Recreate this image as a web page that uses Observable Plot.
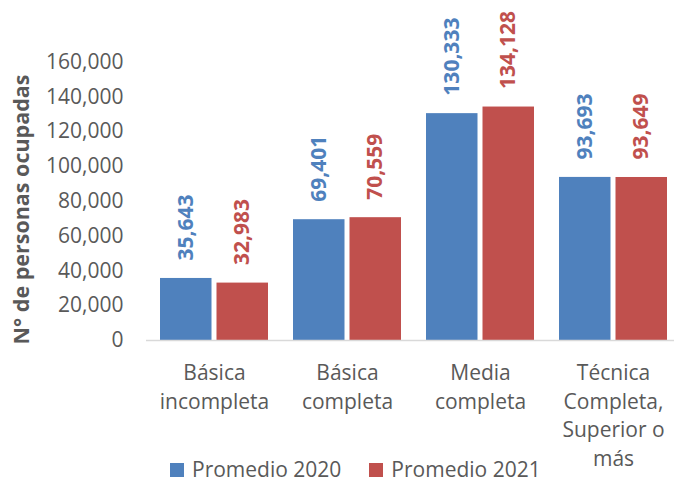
<!DOCTYPE html>
<html><head><meta charset="utf-8">
<script src="https://cdn.jsdelivr.net/npm/d3@7"></script>
<script src="https://cdn.jsdelivr.net/npm/@observablehq/plot@0.6"></script>
<style>
body{margin:0;background:#fff;font-family:"Open Sans",sans-serif;}
#wrap{position:relative;width:674px;height:480px;}
#legend{position:absolute;left:170px;top:459px;display:flex;align-items:center;font-size:21px;color:#595959;line-height:21px;white-space:nowrap;}
.item{display:flex;align-items:center;margin-right:28px;}
.sw{width:14px;height:14px;display:inline-block;margin-right:8px;}
</style></head><body><div id="wrap"><div id="legend"></div></div>
<script>
const categories = ["Básica\nincompleta", "Básica\ncompleta", "Media\ncompleta", "Técnica\nCompleta,\nSuperior o\nmás"];
const series = ["Promedio 2020", "Promedio 2021"];
const values2020 = [35643, 69401, 130333, 93693];
const values2021 = [32983, 70559, 134128, 93649];
const yTicks = [0, 20000, 40000, 60000, 80000, 100000, 120000, 140000, 160000];
const colors = ["#4F81BD", "#C0504D"];
const yLabel = "N° de personas ocupadas";

const rows = [];
categories.forEach((c, i) => {
  rows.push({cat: c, series: series[0], value: values2020[i]});
  rows.push({cat: c, series: series[1], value: values2021[i]});
});
const r2020 = rows.filter(d => d.series === series[0]);
const r2021 = rows.filter(d => d.series === series[1]);
const fmt = d3.format(",");

const chart = Plot.plot({
  width: 674,
  height: 480,
  marginLeft: 146,
  marginRight: 0,
  marginTop: 78,
  marginBottom: 140,
  style: {fontFamily: "'Open Sans', sans-serif", background: "#fff"},
  x: {domain: categories, range: [146.3, 679.7], paddingInner: 0.19, paddingOuter: 0.095},
  y: {domain: [0, 160000], range: [340, 61.5]},
  marks: [
    Plot.barY(r2020, {x: "cat", y: "value", fill: colors[0], insetRight: 56.5}),
    Plot.barY(r2021, {x: "cat", y: "value", fill: colors[1], insetLeft: 56.5}),
    Plot.ruleY([0], {stroke: "#D9D9D9", strokeWidth: 1.5}),
    Plot.text(r2020, {x: "cat", y: "value", text: d => fmt(d.value), rotate: -90, textAnchor: "start", dx: -28.25, dy: -18, fill: colors[0], fontWeight: "bold", fontSize: 21}),
    Plot.text(r2021, {x: "cat", y: "value", text: d => fmt(d.value), rotate: -90, textAnchor: "start", dx: 28.25, dy: -18, fill: colors[1], fontWeight: "bold", fontSize: 21}),
    Plot.axisY({ticks: yTicks, tickFormat: fmt, tickSize: 0, tickPadding: 23, fontSize: 21, color: "#595959", label: null}),
    Plot.axisX({tickSize: 0, tickPadding: 19, fontSize: 21, lineHeight: 1.37, color: "#595959", label: null}),
    Plot.text([yLabel], {frameAnchor: "left", textAnchor: "middle", text: d => d, rotate: -90, dx: -124, fill: "#595959", fontWeight: "bold", fontSize: 21.5})
  ]
});
document.getElementById("wrap").prepend(chart);

const legend = document.getElementById("legend");
series.forEach((s, i) => {
  const item = document.createElement("span");
  item.className = "item";
  const sw = document.createElement("span");
  sw.className = "sw";
  sw.style.background = colors[i];
  item.appendChild(sw);
  item.appendChild(document.createTextNode(s));
  legend.appendChild(item);
});
</script></body></html>
